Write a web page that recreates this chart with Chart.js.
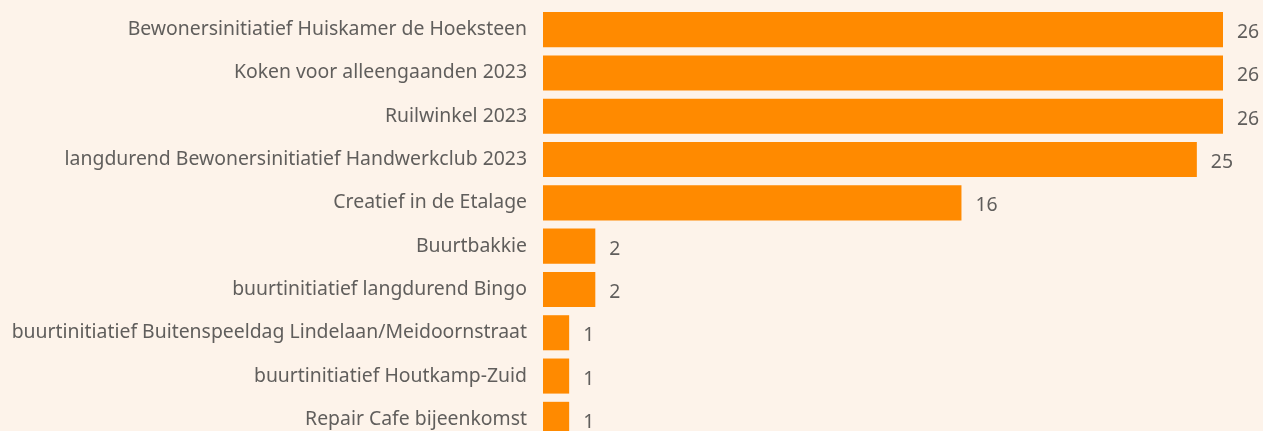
<!DOCTYPE html>
<html>
<head>
<meta charset="utf-8">
<script src="https://cdn.jsdelivr.net/npm/chart.js@4"></script>
<style>
  html, body { margin: 0; padding: 0; background: #fdf3ea; overflow: hidden; }
  #wrap { position: relative; width: 1263px; height: 442px; }
</style>
</head>
<body>
<div id="wrap"><canvas id="chart"></canvas></div>
<script>
const categories = [
  'Bewonersinitiatief Huiskamer de Hoeksteen',
  'Koken voor alleengaanden 2023',
  'Ruilwinkel 2023',
  'langdurend Bewonersinitiatief Handwerkclub 2023',
  'Creatief in de Etalage',
  'Buurtbakkie',
  'buurtinitiatief langdurend Bingo',
  'buurtinitiatief Buitenspeeldag Lindelaan/Meidoornstraat',
  'buurtinitiatief Houtkamp-Zuid',
  'Repair Cafe bijeenkomst'
];
const counts = [26, 26, 26, 25, 16, 2, 2, 1, 1, 1];

// draw the value next to the end of each bar
const valueLabels = {
  id: 'valueLabels',
  afterDatasetsDraw(chart) {
    const ctx = chart.ctx;
    const meta = chart.getDatasetMeta(0);
    ctx.save();
    ctx.font = '19.4px "Noto Sans", sans-serif';
    ctx.fillStyle = '#605e5c';
    ctx.textAlign = 'left';
    ctx.textBaseline = 'middle';
    meta.data.forEach((bar, i) => {
      ctx.fillText(String(counts[i]), bar.x + 14, bar.y + 3);
    });
    ctx.restore();
  }
};

new Chart(document.getElementById('chart'), {
  type: 'bar',
  data: {
    labels: categories,
    datasets: [{
      data: counts,
      backgroundColor: '#ff8a00',
      borderWidth: 0,
      barPercentage: 0.81,
      categoryPercentage: 1
    }]
  },
  options: {
    indexAxis: 'y',
    responsive: true,
    maintainAspectRatio: false,
    animation: false,
    layout: { padding: { top: 8, bottom: 1, right: 40, left: 0 } },
    plugins: {
      legend: { display: false },
      tooltip: { enabled: false }
    },
    scales: {
      x: {
        display: false,
        min: 0,
        max: 26
      },
      y: {
        grid: { display: false, drawTicks: false },
        border: { display: false },
        ticks: {
          padding: 16,
          color: '#605e5c',
          font: { family: '"Noto Sans", sans-serif', size: 19.4 }
        },
        afterFit(scale) {
          scale.width = 543;
          scale.paddingTop = 0;
          scale.paddingBottom = 0;
        }
      }
    }
  },
  plugins: [valueLabels]
});
</script>
</body>
</html>
